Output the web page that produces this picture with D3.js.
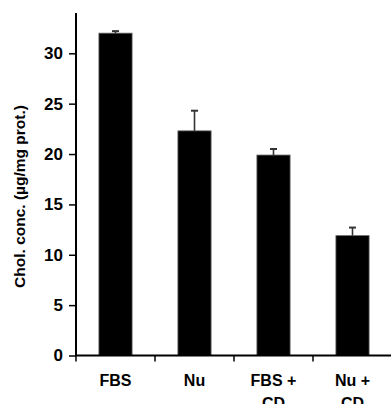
<!DOCTYPE html>
<html>
<head>
<meta charset="utf-8">
<script src="https://cdn.jsdelivr.net/npm/d3@7"></script>
<style>
  body { margin: 0; background: #fff; }
  svg { display: block; font-family: "Liberation Sans", Arial, sans-serif; font-weight: bold; }
</style>
</head>
<body>
<svg id="chart" width="391" height="404"></svg>
<script>
// chart data
var categories = ["FBS", "Nu", "FBS + CD", "Nu + CD"];
var labelLines = [["FBS"], ["Nu"], ["FBS +", "CD"], ["Nu +", "CD"]];
var values = [32.0, 22.3, 19.9, 11.9];
var errors = [0.2, 2.0, 0.6, 0.8];
var yTicks = [0, 5, 10, 15, 20, 25, 30];

var svg = d3.select('#chart');

var plotLeft = 76, plotRight = 392, plotTop = 13, plotBottom = 355.5;

var xScale = d3.scaleBand()
  .domain(categories)
  .range([plotLeft, plotRight]);

var yScale = d3.scaleLinear()
  .domain([0, 34])
  .range([plotBottom, plotTop]);

var barW = xScale.bandwidth() * 0.42;

// bars
svg.selectAll('.bar')
  .data(categories)
  .enter().append('rect')
  .attr('class', 'bar')
  .attr('x', function(d) { return xScale(d) + (xScale.bandwidth() - barW) / 2; })
  .attr('width', barW)
  .attr('y', function(d, i) { return yScale(values[i]); })
  .attr('height', function(d, i) { return plotBottom - yScale(values[i]); })
  .attr('fill', '#000')
  .attr('stroke', '#666')
  .attr('stroke-width', 0.8);

// error bars (upper whisker)
var err = svg.append('g').attr('stroke', '#333').attr('stroke-width', 1.6);
categories.forEach(function(c, i) {
  var cx = xScale(c) + xScale.bandwidth() / 2;
  var yTop = yScale(values[i] + errors[i]);
  err.append('line')
    .attr('x1', cx).attr('x2', cx)
    .attr('y1', yScale(values[i])).attr('y2', yTop);
  err.append('line')
    .attr('x1', cx - 3.5).attr('x2', cx + 3.5)
    .attr('y1', yTop).attr('y2', yTop)
    .attr('stroke-width', 2);
});

// y axis
var yAxis = svg.append('g')
  .attr('transform', 'translate(' + plotLeft + ',0)')
  .call(d3.axisLeft(yScale).tickValues(yTicks).tickSize(7).tickPadding(6).tickFormat(d3.format('d')));
yAxis.select('.domain').attr('d', 'M0,' + plotTop + 'V' + plotBottom).attr('stroke', '#000').attr('stroke-width', 2);
yAxis.selectAll('.tick line').attr('stroke', '#000').attr('stroke-width', 1.5);
yAxis.selectAll('.tick text')
  .attr('font-size', 17).attr('font-weight', 'bold')
  .attr('font-family', '"Liberation Sans", Arial, sans-serif')
  .attr('fill', '#000');

// x axis: line plus ticks at category boundaries
var xg = svg.append('g');
xg.append('line')
  .attr('x1', plotLeft - 1).attr('x2', plotRight)
  .attr('y1', plotBottom).attr('y2', plotBottom)
  .attr('stroke', '#000').attr('stroke-width', 2);
categories.forEach(function(c) {
  xg.append('line')
    .attr('x1', xScale(c)).attr('x2', xScale(c))
    .attr('y1', plotBottom).attr('y2', plotBottom + 6)
    .attr('stroke', '#000').attr('stroke-width', 1.5);
});

// x labels
categories.forEach(function(c, i) {
  var cx = xScale(c) + xScale.bandwidth() / 2;
  var t = svg.append('text')
    .attr('text-anchor', 'middle')
    .attr('font-size', 16)
    .attr('fill', '#000');
  labelLines[i].forEach(function(line, j) {
    t.append('tspan')
      .attr('x', cx)
      .attr('y', plotBottom + 30.5 + j * 23)
      .text(line);
  });
});

// y title
svg.append('text')
  .attr('transform', 'translate(25,196.5) rotate(-90)')
  .attr('text-anchor', 'middle')
  .attr('font-size', 15.5)
  .attr('fill', '#000')
  .text('Chol. conc. (µg/mg prot.)');
</script>
</body>
</html>
